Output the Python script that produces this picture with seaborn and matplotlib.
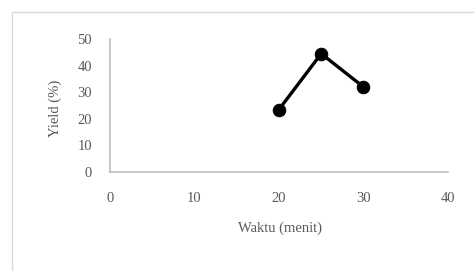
import matplotlib
matplotlib.use("Agg")
import matplotlib.pyplot as plt
import pandas as pd
import seaborn as sns
from matplotlib.lines import Line2D

# data
waktu = [20, 25, 30]
yield_pct = [23.5, 44.5, 32.0]
x_ticks = [0, 10, 20, 30, 40]
y_ticks = [0, 10, 20, 30, 40, 50]

sns.set_style("white")
plt.rcParams['font.family'] = ['Liberation Serif', 'DejaVu Serif']

df = pd.DataFrame({"Waktu (menit)": waktu, "Yield (%)": yield_pct})

fig = plt.figure(figsize=(4.74, 2.71), dpi=100)
ax = fig.add_axes([0.232, 0.365, 0.713, 0.491])

sns.lineplot(data=df, x="Waktu (menit)", y="Yield (%)", ax=ax,
             color="black", linewidth=2.4, marker="o", markersize=9,
             markeredgecolor="black")

ax.set_xlim(0, 40)
ax.set_ylim(0, 50)
ax.set_xticks(x_ticks)
ax.set_yticks(y_ticks)

gray = "#595959"
ax.tick_params(axis="both", length=0, labelsize=10.5, labelcolor=gray)
ax.tick_params(axis="x", pad=14)
ax.tick_params(axis="y", pad=13)

for side in ["top", "right"]:
    ax.spines[side].set_visible(False)
for side in ["left", "bottom"]:
    ax.spines[side].set_color("#bfbfbf")
    ax.spines[side].set_linewidth(1.2)

ax.set_xlabel("Waktu (menit)", fontsize=10.5, color=gray)
ax.set_ylabel("Yield (%)", fontsize=10.5, color=gray)
ax.xaxis.label.set_va("center")
ax.xaxis.set_label_coords(0.503, -0.42)
ax.yaxis.label.set_va("center")
ax.yaxis.set_label_coords(-0.163, 0.48)

# outer chart border (cut off on the right and bottom)
border = "#d9d9d9"
fig.add_artist(Line2D([12 / 474, 1.0], [1 - 12 / 271, 1 - 12 / 271],
                      color=border, linewidth=1.0, transform=fig.transFigure))
fig.add_artist(Line2D([12 / 474, 12 / 474], [0.0, 1 - 12 / 271],
                      color=border, linewidth=1.0, transform=fig.transFigure))

fig.savefig("out.png", dpi=100)
